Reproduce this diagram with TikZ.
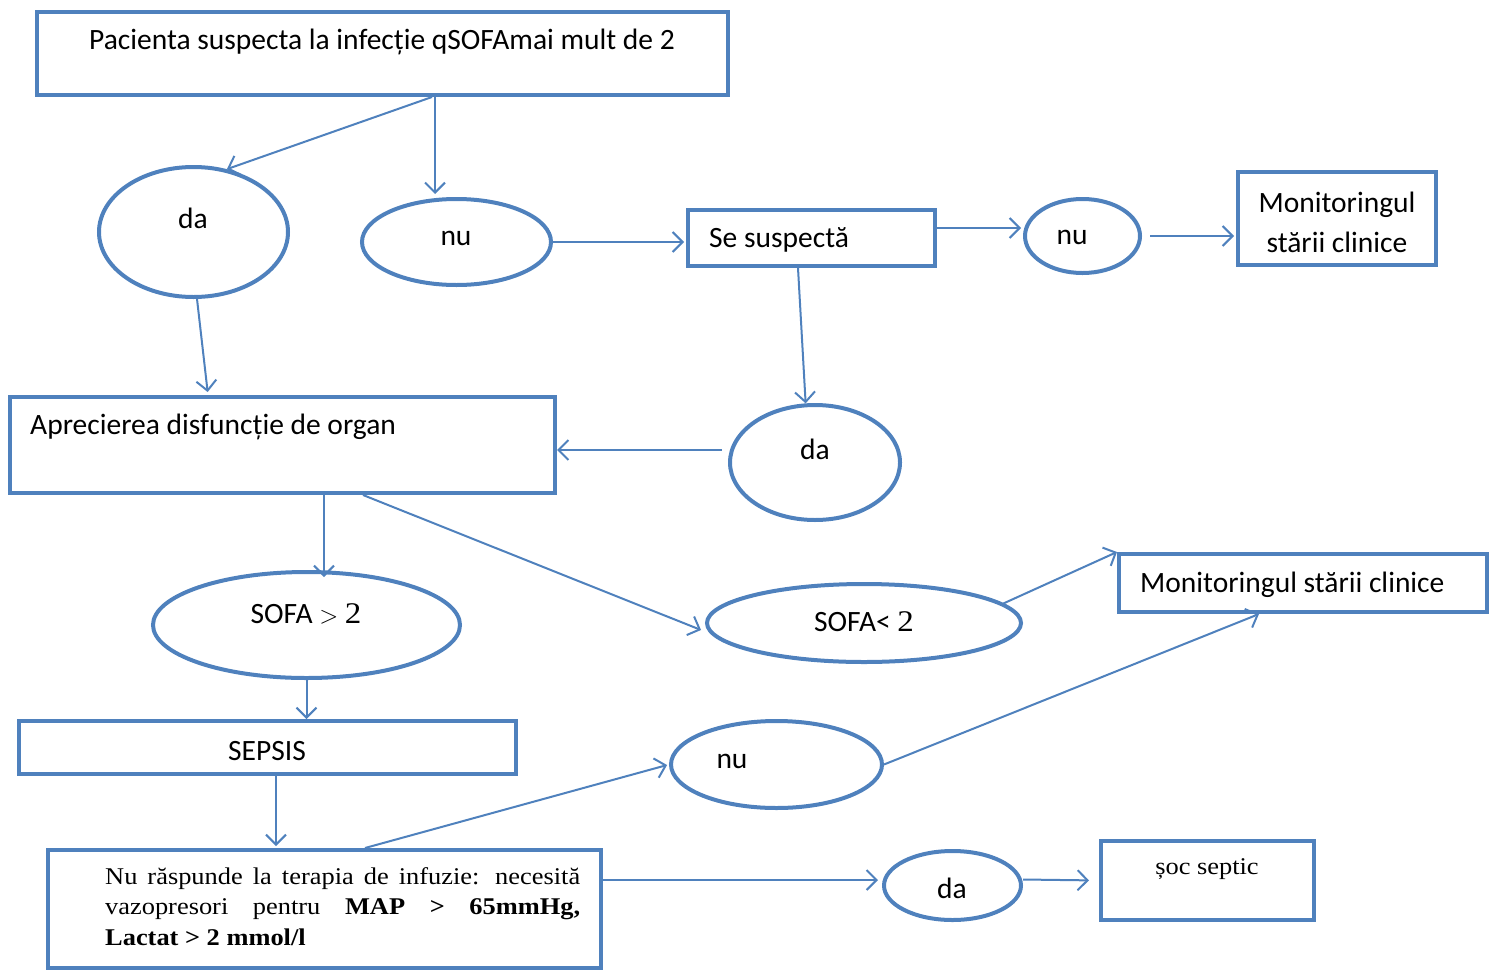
\documentclass[tikz,border=0pt]{standalone}
\usepackage{fontspec}
\setmainfont{Carlito}
\newfontfamily\tnr{Liberation Serif}[FakeStretch=1.1]
\usetikzlibrary{arrows.meta,calc,shapes.geometric}
\definecolor{blu}{HTML}{4F81BD}
\tikzset{
  box/.style={draw=blu,line width=4pt,rectangle,inner sep=0pt},
  ell/.style={draw=blu,line width=4pt,ellipse,inner sep=0pt},
  txt/.style={inner sep=0pt,font=\fontsize{29.5}{40}\selectfont},
  serif/.style={inner sep=0pt,font=\tnr\fontsize{24}{30.5}\selectfont},
  arr/.style={draw=blu,line width=2pt,-{Straight Barb[length=10pt,width=20pt,line width=2pt]}},
}
\begin{document}
\begin{tikzpicture}[x=1pt,y=-1pt]
\useasboundingbox (0,0) rectangle (1499,972);
% boxes and ellipses
\node[box,minimum width=691pt,minimum height=83pt] (top) at (382.5,53.5) {};
\node[ell,minimum width=189pt,minimum height=130pt] (daL) at (193.5,232) {};
\node[ell,minimum width=189pt,minimum height=86pt] (nuT) at (456.5,242) {};
\node[box,minimum width=247pt,minimum height=56pt] (sus) at (811.5,238) {};
\node[ell,minimum width=115pt,minimum height=74pt] (nuR) at (1082.5,236) {};
\node[box,minimum width=198pt,minimum height=93pt] (mon1) at (1337,218.5) {};
\node[box,minimum width=545pt,minimum height=96pt] (apr) at (282.5,445) {};
\node[ell,minimum width=170pt,minimum height=115pt] (daM) at (815,462.5) {};
\node[ell,minimum width=307pt,minimum height=106pt] (sofaG) at (306.5,625) {};
\node[ell,minimum width=314pt,minimum height=78pt] (sofaL) at (864,623) {};
\node[box,minimum width=368pt,minimum height=58pt] (mon2) at (1303,583) {};
\node[box,minimum width=497pt,minimum height=53pt] (sepsis) at (267.5,747.5) {};
\node[ell,minimum width=211pt,minimum height=87pt] (nuB) at (776.5,764.5) {};
\node[box,minimum width=553pt,minimum height=118pt] (bot) at (324.5,909) {};
\node[ell,minimum width=137pt,minimum height=69pt] (daB) at (952.5,885.5) {};
\node[box,minimum width=213pt,minimum height=79pt] (soc) at (1207.5,880.5) {};
% texts
\node[txt] (t1) at (382,42) {Pacienta suspecta la infecție qSOFAmai mult de 2};
\node[txt] (t2) at (193,218) {da};
\node[txt] (t3) at (456,238) {nu};
\node[txt,anchor=west] (t4) at (709,240) {Se suspectă};
\node[txt] (t5) at (1072,237) {nu};
\node[txt,align=center] (t6) at (1337,222) {Monitoringul\\stării clinice};
\node[txt,anchor=west] (t7) at (30,427) {Aprecierea disfuncție de organ};
\node[txt] (t8) at (815,449) {da};
\node[txt] (t9) at (306,614) {SOFA {\fontsize{32}{36}\selectfont$>$} {\tnr\fontsize{30}{30}\selectfont 2}};
\node[txt] (t10) at (864,622) {SOFA< {\tnr\fontsize{30}{30}\selectfont 2}};
\node[txt,anchor=west] (t11) at (1140,585) {Monitoringul stării clinice};
\node[txt] (t12) at (267,751) {SEPSIS};
\node[txt] (t13) at (732,761) {nu};
\node[txt] (t15) at (952,888) {da};
\node[serif] (t16) at (1207,869) {șoc septic};
\node[serif,anchor=north west,align=left] (t14) at (105,867)
  {\makebox[475pt][s]{Nu răspunde la terapia de infuzie: necesită}\\
   \makebox[475pt][s]{vazopresori pentru \textbf{MAP > 65mmHg,}}\\
   \textbf{Lactat > 2 mmol/l}};
% connectors
\draw[arr] ([xshift=49.5pt]top.south) -- (daL.62);
\draw[arr] ([xshift=52.5pt]top.south) coordinate (a2) -- ([yshift=3pt]a2 |- nuT.north);
\draw[arr,shorten >=2pt] (nuT.east) -- (nuT.east -| sus.west);
\draw[arr,shorten >=2pt] ([yshift=10pt]sus.east) coordinate (a4) -- (a4 -| nuR.west);
\draw[arr,shorten <=8pt,shorten >=2pt] (nuR.east) -- (nuR.east -| mon1.west);
\draw[arr] ([xshift=-13.5pt]sus.south) -- (daM.99);
\draw[arr,shorten <=6pt] ([yshift=12.5pt]daM.west) coordinate (a7) -- (a7 -| apr.east);
\draw[arr,shorten >=3pt] (daL.-87) -- ([xshift=-74.5pt]apr.north);
\draw[arr] ([xshift=41.5pt]apr.south) coordinate (a9) -- ([yshift=-7pt]a9 |- sofaG.north);
\draw[arr] ([xshift=80.5pt]apr.south) -- ([xshift=-4pt,yshift=-7pt]sofaL.west);
\draw[arr] (sofaL.8) -- (mon2.north west);
\draw[arr] (sofaG.south) -- (sofaG.south |- sepsis.north);
\draw[arr,shorten >=2pt] ([xshift=8.5pt]sepsis.south) coordinate (a13) -- (a13 |- bot.north);
\draw[arr,shorten >=2pt] ([xshift=40.5pt]bot.north) -- (nuB.west);
\draw[arr] (nuB.east) -- ([xshift=-44pt]mon2.south);
\draw[arr,shorten >=4pt] ([yshift=29pt]bot.east) coordinate (a16) -- (a16 -| daB.west);
\draw[arr,shorten >=10pt] ([yshift=6pt]daB.east) -- (soc.west);
\end{tikzpicture}
\end{document}
